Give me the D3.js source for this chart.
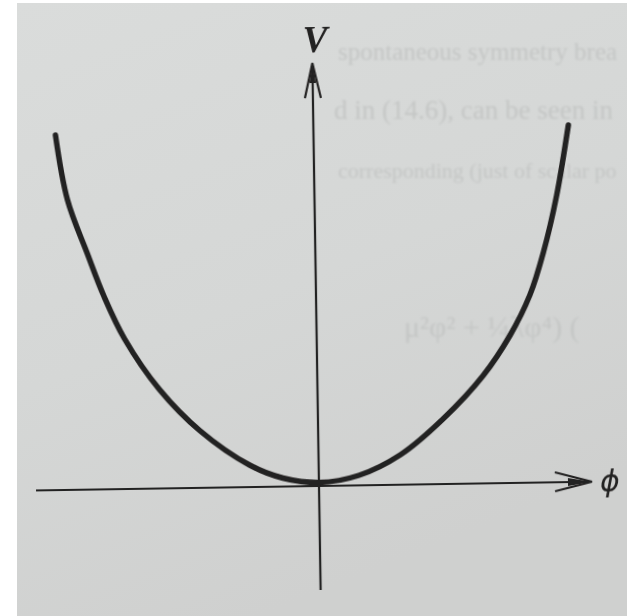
<!DOCTYPE html>
<html>
<head>
<meta charset="utf-8">
<script src="https://cdn.jsdelivr.net/npm/d3@7/dist/d3.min.js"></script>
<style>
  html, body { margin: 0; padding: 0; background: #ffffff; }
  svg { display: block; }
</style>
</head>
<body>
<script>
// Potential V(φ) sampled along the curve (φ and V in figure units)
const phiValues = [-2.58, -2.47, -2.28, -2.12, -1.92, -1.58, -1.18, -0.69, -0.36, 0, 0.40, 0.82, 1.25, 1.66, 1.93, 2.14, 2.28, 2.42, 2.55];
const vValues   = [ 3.55,  2.90,  2.36,  1.93,  1.50,  0.99,  0.57,  0.22, 0.085, 0.035, 0.10, 0.30, 0.65, 1.08, 1.47, 1.88, 2.30, 2.86, 3.57];

// Axis extents
const phiAxisRange = [-2.83, 2.73];
const vAxisRange = [-1.04, 4.23];

// Axis labels
const vLabel = "V";
const phiLabel = "ϕ";

// Faint text showing through from the reverse of the page
const showThroughLines = [
  { text: "spontaneous symmetry brea", x: 338, y: 60, size: 25 },
  { text: "d in (14.6), can be seen in", x: 334, y: 119, size: 27 },
  { text: "corresponding (just of scalar po", x: 338, y: 178, size: 22 },
  { text: "μ²φ² + ¼λφ⁴)   (", x: 404, y: 337, size: 30 }
];

const W = 627, H = 616;
const svg = d3.select("body").append("svg").attr("width", W).attr("height", H);
const defs = svg.append("defs");

const grad = defs.append("linearGradient").attr("id", "paper")
  .attr("x1", "0").attr("y1", "0").attr("x2", "0.4").attr("y2", "1");
grad.append("stop").attr("offset", "0").attr("stop-color", "#dadcdb");
grad.append("stop").attr("offset", "0.55").attr("stop-color", "#d5d7d6");
grad.append("stop").attr("offset", "1").attr("stop-color", "#cfd0cf");

defs.append("filter").attr("id", "soft").append("feGaussianBlur").attr("stdDeviation", 0.6);
defs.append("filter").attr("id", "ghost")
  .attr("x", "-5%").attr("y", "-20%").attr("width", "110%").attr("height", "140%")
  .append("feGaussianBlur").attr("stdDeviation", 1.1);

// Page
svg.append("rect").attr("x", 0).attr("y", 0).attr("width", W).attr("height", H).attr("fill", "#ffffff");
svg.append("rect").attr("x", 17).attr("y", 3).attr("width", W - 17).attr("height", H - 3).attr("fill", "url(#paper)");

// Show-through text
svg.append("g").attr("filter", "url(#ghost)")
  .selectAll("text").data(showThroughLines).join("text")
  .attr("x", d => d.x).attr("y", d => d.y)
  .attr("font-family", "Liberation Serif, serif")
  .attr("font-size", d => d.size)
  .attr("fill", "#c4c6c5")
  .text(d => d.text);

// Scales: origin of the figure at (319, 486)
const x = d3.scaleLinear().domain([-3, 3]).range([19, 619]);
const y = d3.scaleLinear().domain([0, 4]).range([486, 86]);

const fig = svg.append("g")
  .attr("transform", `rotate(-0.9, ${x(0)}, ${y(0)})`)
  .attr("filter", "url(#soft)");

const ink = "#242121";

// Horizontal φ axis
fig.append("line")
  .attr("x1", x(phiAxisRange[0])).attr("x2", x(phiAxisRange[1]) - 4)
  .attr("y1", y(0)).attr("y2", y(0))
  .attr("stroke", ink).attr("stroke-width", 2.2);

// Vertical V axis
fig.append("line")
  .attr("x1", x(0)).attr("x2", x(0))
  .attr("y1", y(vAxisRange[0])).attr("y2", y(vAxisRange[1]) + 4)
  .attr("stroke", ink).attr("stroke-width", 2.2);

// Arrowhead on V axis
{
  const tx = x(0), ty = y(vAxisRange[1]);
  fig.append("path")
    .attr("d", `M${tx - 8},${ty + 35} L${tx},${ty} L${tx + 8},${ty + 35}`)
    .attr("fill", "none").attr("stroke", ink).attr("stroke-width", 2.2)
    .attr("stroke-linejoin", "miter");
  fig.append("path")
    .attr("d", `M${tx},${ty} L${tx - 3.2},${ty + 20} L${tx + 3.2},${ty + 20} Z`)
    .attr("fill", ink);
}

// Arrowhead on φ axis
{
  const tx = x(phiAxisRange[1]), ty = y(0);
  fig.append("path")
    .attr("d", `M${tx - 37},${ty - 10} L${tx},${ty} L${tx - 37},${ty + 9}`)
    .attr("fill", "none").attr("stroke", ink).attr("stroke-width", 2.2);
  fig.append("path")
    .attr("d", `M${tx},${ty} L${tx - 24},${ty - 4} L${tx - 24},${ty + 4} Z`)
    .attr("fill", ink);
}

// Potential curve
const pts = phiValues.map((p, i) => [p, vValues[i]]);
const line = d3.line().x(d => x(d[0])).y(d => y(d[1])).curve(d3.curveCatmullRom.alpha(0.5));
fig.append("path")
  .attr("d", line(pts))
  .attr("fill", "none").attr("stroke", ink)
  .attr("stroke-width", 5.5).attr("stroke-linecap", "round");

// Axis labels
fig.append("text")
  .attr("x", x(0) + 3).attr("y", y(vAxisRange[1]) - 11)
  .attr("text-anchor", "middle")
  .attr("font-family", "Liberation Serif, serif")
  .attr("font-style", "italic").attr("font-weight", "bold")
  .attr("font-size", 37).attr("fill", ink)
  .text(vLabel);

fig.append("text")
  .attr("x", x(phiAxisRange[1]) + 18).attr("y", y(0) + 10)
  .attr("text-anchor", "middle")
  .attr("font-family", "DejaVu Sans, sans-serif")
  .attr("font-style", "italic")
  .attr("font-size", 30).attr("fill", ink)
  .text(phiLabel);
</script>
</body>
</html>
